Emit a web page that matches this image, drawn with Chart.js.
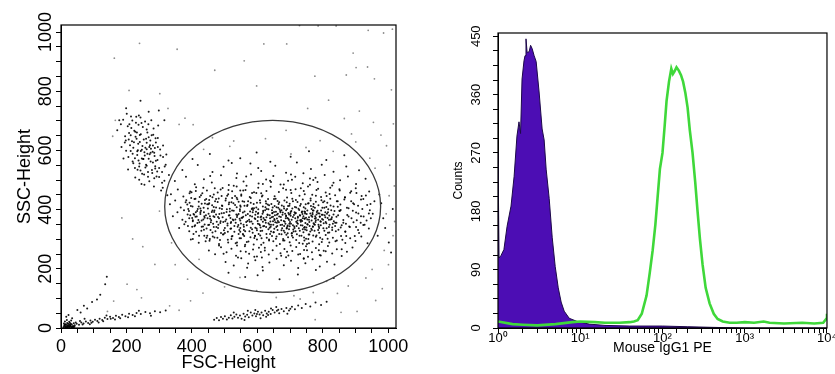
<!DOCTYPE html>
<html>
<head>
<meta charset="utf-8">
<script src="https://cdn.jsdelivr.net/npm/chart.js@4"></script>
<style>
  body { margin: 0; background: #fff; }
  #wrap { position: relative; width: 835px; height: 374px; }
  canvas { position: absolute; top: 0; }
  #scatter { left: 0; }
  #hist { left: 420px; }
</style>
</head>
<body>
<div id="wrap">
  <canvas id="scatter" width="420" height="374"></canvas>
  <canvas id="hist" width="415" height="374"></canvas>
</div>
<script>
// ---- left panel: FSC / SSC dot plot ----
var debrisPts = [[8,3],[11,7],[13,2],[15,11],[17,5],[19,9],[21,1],[22,14],[24,6],[26,3],[27,18],[29,8],[31,4],[33,12],[35,2],[37,7],[39,16],[12,22],[18,27],[25,21],[31,25],[16,38],[23,44],[34,33],[9,15],[14,4],[20,3],[28,10],[36,5],[42,9],[45,19],[14,13],[19,17],[27,6],[32,2],[10,9],[16,1],[23,9],[30,14],[38,3],[12,11],[21,6],[26,12],[41,4]];
var lowStreakPts = [[48,14],[55,11],[62,19],[69,15],[76,22],[83,17],[90,25],[97,21],[104,28],[111,24],[118,31],[126,27],[134,35],[142,30],[150,38],[159,34],[168,41],[177,37],[187,45],[197,40],[208,48],[219,44],[231,51],[244,47],[258,54],[272,50],[287,57],[303,53],[320,59],[58,24],[72,31],[88,13],[115,19],[139,42],[165,29],[205,36],[238,58],[275,41],[60,52],[80,66],[95,88],[120,112],[135,148],[140,173],[110,96],[70,75],[50,61],[66,12],[93,18],[129,23],[152,31],[181,33],[226,40]];
var beadPts = [[468,28],[476,34],[483,26],[489,37],[495,31],[501,40],[507,29],[513,35],[519,43],[524,32],[530,38],[536,46],[541,35],[547,42],[552,31],[558,48],[563,39],[569,45],[574,36],[580,52],[585,42],[591,49],[596,40],[602,55],[607,46],[613,52],[618,43],[624,58],[629,49],[635,55],[641,47],[647,61],[653,52],[660,58],[667,50],[674,64],[681,57],[689,68],[697,59],[706,72],[715,63],[725,76],[736,68],[748,81],[762,73],[778,86],[795,78],[812,89],[528,52],[561,27],[594,61],[627,38],[658,71],[692,48],[571,58],[610,33],[642,66],[599,47],[633,44],[664,62],[701,65]];
var leftClusterPts = [[172,668],[178,702],[185,612],[191,573],[196,648],[201,724],[205,536],[209,689],[213,598],[217,631],[221,557],[224,667],[227,509],[230,714],[233,585],[236,623],[239,546],[241,652],[244,598],[246,693],[248,521],[251,571],[253,637],[255,484],[258,609],[260,552],[262,671],[264,589],[266,527],[268,645],[270,496],[272,618],[274,563],[276,702],[278,534],[280,596],[282,653],[284,478],[286,581],[288,547],[290,627],[292,512],[295,568],[297,684],[300,541],[303,603],[306,465],[309,527],[312,578],[316,498],[320,552],[325,449],[330,517],[199,743],[243,768],[268,731],[219,589],[237,566],[256,583],[249,615],[231,640],[262,604],[274,592],[215,676],[287,608],[239,501],[183,689],[207,637],[299,735],[316,702],
  [247,602],[213,651],[281,559],[229,694],[266,511],[195,627],[304,583],[238,718],[258,542],[221,609],[289,641],[204,682],[271,587],[243,532],[317,546],[232,661],[262,626],[199,599],[285,506],[250,679],[226,574],[296,612],[214,715],[277,651],[240,556],[309,491],[257,698],[223,628],[268,572],[235,601],[294,529],[208,659],[281,617],[246,487],[264,661],[190,704],[226,541],[273,634],[252,571],[312,617],[237,687],[285,592],[219,563],[260,640],[300,510],[244,655],[211,618],[279,524],[233,597],[267,689],[254,519],[322,586],[228,646],[290,565],[241,629],[206,578],[275,606],[262,548],[218,701],[296,642],[247,573],[234,535],[283,674],[255,594],[311,474],[227,663],[270,612],[243,711],[288,539],[198,634]];
var mainClusterPts = [
  [402,571],[455,588],[512,566],[598,593],[640,562],[702,579],[758,597],[811,568],[866,584],[548,574],
  [371,534],[418,551],[463,527],[497,545],[538,522],[579,556],[612,531],[655,548],[688,525],[721,559],[764,537],[797,552],[833,528],[872,546],[911,533],[603,541],[741,523],[522,558],
  [348,497],[382,511],[409,486],[437,503],[461,492],[489,516],[513,483],[536,507],[558,495],[581,519],[604,488],[627,502],[649,514],[671,485],[694,498],[716,511],[739,489],[761,505],[784,493],[806,517],[829,482],[853,499],[877,512],[902,487],[931,504],[567,481],[642,493],[703,519],[778,508],[456,514],
  [336,452],[357,468],[374,444],[395,461],[413,476],[428,449],[446,465],[463,442],[479,458],[494,473],[508,447],[523,462],[537,478],[551,451],[564,466],[577,443],[590,459],[603,474],[616,448],[628,463],[641,477],[653,445],[666,460],[679,472],[691,441],[704,456],[717,469],[729,447],[742,463],[755,478],[768,450],[781,466],[795,443],[809,458],[823,474],[838,449],[852,465],[868,441],[884,457],[901,472],[919,446],[942,461],[612,455],[688,467],[745,452],
  [333,418],[349,431],[366,407],[381,425],[397,412],[411,437],[426,404],[440,421],[453,433],[467,409],[479,426],[492,414],[504,438],[516,403],[527,422],[539,435],[549,410],[560,427],[570,416],[580,439],[590,405],[599,423],[608,432],[617,411],[626,428],[634,401],[643,419],[651,436],[659,408],[667,425],[675,414],[683,431],[691,402],[699,420],[707,437],[715,409],[723,426],[731,413],[739,434],[747,404],[755,421],[763,438],[771,410],[779,427],[787,415],[796,432],[805,406],[814,423],[823,437],[833,411],[843,428],[854,417],[866,434],[879,405],[893,422],[908,413],[924,436],[946,419],[636,415],[662,429],[694,412],[718,433],[748,418],[776,406],[958,428],
  [342,378],[356,391],[371,366],[387,384],[401,372],[416,395],[430,363],[443,381],[456,369],[468,392],[480,375],[491,388],[502,361],[513,380],[523,397],[533,367],[543,385],[552,373],[561,394],[570,362],[578,379],[586,391],[594,368],[602,386],[610,374],[618,396],[625,364],[632,382],[639,371],[646,389],[653,365],[660,383],[667,377],[674,398],[681,362],[688,380],[695,369],[702,392],[709,375],[716,387],[723,363],[730,381],[737,394],[744,370],[751,385],[758,366],[765,379],[772,397],[779,372],[786,388],[793,361],[800,383],[808,374],[816,391],[824,367],[833,384],[842,376],[852,395],[863,365],[875,382],[888,371],[902,390],[917,378],[934,363],[953,386],[648,376],[671,391],[697,384],[724,373],[746,392],[769,384],[791,377],[612,367],[587,399],[538,375],
  [361,338],[377,351],[392,327],[408,344],[423,357],[437,332],[450,348],[463,323],[475,341],[487,355],[498,330],[509,346],[520,358],[530,325],[540,342],[550,353],[559,331],[568,347],[577,359],[586,322],[594,339],[602,352],[610,328],[618,344],[626,356],[634,334],[642,349],[650,324],[658,341],[666,357],[674,330],[682,345],[690,336],[698,352],[706,321],[714,338],[722,355],[730,329],[738,346],[746,333],[754,350],[762,326],[770,343],[778,358],[786,331],[794,347],[802,337],[811,354],[820,323],[829,340],[838,356],[848,332],[858,347],[869,326],[881,343],[894,357],[908,331],[924,348],[941,336],[692,343],[717,327],[743,339],[767,331],[789,338],[805,329],[776,349],[733,359],[709,347],[652,335],[627,341],[584,334],[548,338],[871,352],[902,341],
  [403,301],[421,288],[438,312],[454,295],[469,306],[483,284],[497,317],[510,298],[522,309],[534,286],[546,303],[557,315],[568,291],[579,307],[589,282],[599,299],[609,313],[619,288],[629,305],[639,318],[649,293],[659,309],[669,284],[679,301],[689,315],[699,290],[709,306],[719,297],[729,312],[739,285],[749,302],[759,316],[769,292],[779,308],[789,283],[799,300],[809,314],[820,289],[831,305],[843,296],[856,311],[869,287],[884,303],[900,294],[918,309],[937,286],[705,319],[744,296],[771,313],[797,291],[728,287],[683,296],[636,299],[593,312],[563,281],[815,302],[860,298],[511,289],[445,305],[752,284],
  [452,262],[471,249],[489,273],[506,256],[521,268],[535,244],[549,259],[562,276],[575,251],[587,265],[599,242],[611,257],[623,271],[635,248],[647,263],[659,278],[671,253],[683,267],[695,245],[707,260],[719,274],[731,250],[743,264],[755,241],[767,256],[779,270],[791,247],[803,261],[816,277],[829,252],[843,266],[858,243],[874,258],[891,272],[612,281],[702,279],[749,276],[673,244],[788,263],[565,258],
  [503,223],[528,211],[551,236],[572,218],[594,229],[616,206],[637,221],[659,234],[681,212],[703,227],[725,203],[747,219],[769,232],[791,208],[813,224],[836,215],[614,238],[688,239],[742,236],[569,204],
  [512,187],[563,172],[617,194],[668,165],[724,181],[779,196],[834,169],[601,178],
  [968,312],[985,371],[1002,289],[1014,402],[973,451],[991,338],[1009,255],[979,422]
];
var corePts = [[612,377],[745,341],[583,402],[801,366],[667,318],[709,428],[558,349],[836,395],[694,307],[627,421],[772,354],[598,336],[718,389],[653,412],[789,322],[571,385],[742,408],[684,359],[819,341],[636,296],[763,431],[601,362],[697,334],[828,374],[645,398],[757,316],[589,419],[724,352],[677,383],[811,409],[563,327],[739,371],[621,345],[784,396],[706,312],[656,437],[842,356],[593,311],[733,419],[671,348],[797,383],[618,392],[751,330],[682,404],[575,366],[816,322],[640,360],[766,402],[702,379],[547,401],[855,340],[628,318],[779,364],[690,425],[606,351],[746,387],[662,331],[824,414],[584,377],[713,343],[652,368],[792,305],[569,412],[737,362],[679,296],[808,391],[633,436],[760,345],[596,393],[721,317],[668,401],[847,381],[615,329],[772,419],[700,358],[554,373],[831,352],[645,311],[753,397],[687,371],[580,339],[805,428],[625,408],[741,324],[663,386],[787,349],[609,423],[728,399],[676,337],[819,366],[591,304],[768,376],[698,413],[637,350],[756,301],[572,428],[812,337],[651,392],[734,365],[684,323],[799,406],[619,372],[747,355],[665,419],[840,327],[603,389],[781,384],[710,333],[566,358],[826,398],[642,326],[764,412],[693,346],[597,407],[749,373],[657,302],[794,359],[631,384],[719,407],[673,364],[851,396],[586,352],[775,329],[704,395],[548,325],[815,372],[649,349],[738,385],[681,411],[604,318],[766,363],[716,371],[629,402],[788,343],[660,356],[743,306],[578,394],[806,381],[690,338],[622,366],[757,422],[695,389],[560,311],[834,361],[644,374],[770,397],[711,326],[592,371],[753,351],[670,395],[821,349],[613,303],[731,380],[686,352],[801,425],[638,339],[762,387],[705,366],[576,327],[846,410],[654,381],[781,313],[726,403],[608,347],[744,394],[674,317],[813,386],[632,417],[776,370],[699,344],[565,381],[829,331],[647,407],[759,358],[714,391],[599,330],[791,376],[661,345],[735,312],[688,398],[617,359],[803,354],[727,337],[650,324],[770,342],[692,372],[585,405],[753,367],[638,381],[719,359],[676,349],[798,368],[624,398],[741,378],[703,352],[660,370],[782,392],[610,340],[733,347],[685,386],[820,380],[648,361],[765,335],[707,404],[594,383],[745,369],[672,375],[809,358],[634,354],[777,378],[697,365],[556,390],[838,345],[657,393],[724,376],[681,329],[795,397],[616,386],[750,340],[664,406],[786,366],[602,375],[736,391],[693,320],[827,368],[641,342],[769,389],[712,382],[582,360],[817,401],[655,357],[739,334],[678,390],[603,401],[758,374],[720,345],[663,362],[790,387],[628,374],[774,351],[701,386],[646,388],[731,364],[688,378]];
var leftCorePts = [[392,371],[418,402],[445,336],[471,428],[498,389],[524,311],[551,447],[405,318],[432,455],[459,364],[486,297],[513,418],[539,381],[383,432],[410,347],[437,391],[464,309],[491,446],[518,372],[545,331],[399,459],[426,385],[453,422],[480,338],[507,401],[534,356],[561,413],[388,345],[415,377],[442,293],[469,397],[496,358],[523,439],[550,303],[402,411],[429,329],[456,446],[483,371],[510,325],[537,408],[376,398],[403,361],[430,420],[457,331],[484,385],[511,452],[538,289],[395,381],[422,312],[449,404],[476,359],[503,431],[530,345],[557,376],[381,359],[408,436],[435,367],[462,415],[489,321],[516,394],[543,427],[397,299],[424,443],[451,386],[478,305],[505,367],[532,416],[559,342],[412,391],[439,350],[466,378],[493,412],[520,336],[547,395],[386,417],[413,325],[440,433],[467,341],[494,374],[521,425],[548,363],[401,342],[428,396],[455,301],[482,438],[509,353],[536,384],[420,365],[447,418],[474,384],[501,338],[528,396],[555,428],[391,395],[438,378],[465,352],[492,402],[519,355],[546,369],[407,383],[434,343],[461,392],[488,361],[515,381],[542,348],[474,407],[501,321],[527,364],[453,349],[421,411],[448,371],[537,440],[556,318],[470,472],[512,466],[435,474],[393,455],[548,465],[483,279]];
var rimPts = [[412,463],[538,279],[872,311],[455,378],[921,402],[497,251],[903,456],[389,402],[617,487],[858,266],[474,436],[941,387],[521,301],[786,471],[430,342],[887,428],[566,512],[752,263],[405,385],[928,349],[488,468],[833,491],[447,312],[879,377],[541,238],[706,501],[421,427],[911,321],[584,456],[868,442],[463,397],[947,371],[528,481],[809,259],[439,373],[892,396],[605,271],[761,484],[398,439],[936,416],[514,424],[851,469],[472,327],[904,364],[557,465],[725,248],[417,355],[883,341],[639,498],[821,453],[481,349],[917,434],[532,446],[794,245],[451,418],[874,406],[591,241],[733,472],[403,364],[925,377],[506,392],[846,428],[467,451],[898,311],[573,292],[779,447],[426,391],[863,356],[548,414],[691,258],[495,316],[932,448],[614,444],[839,293],[458,357],[909,387],[525,367],[771,500],[436,406],[887,462],[580,423],[742,234],[485,405],[855,399],[623,262],[702,466],[411,376],[916,356],[543,318],[812,446],[469,375],[896,418],[597,456],[758,286],[444,436],[869,325],[518,335],[681,485],[393,423],[944,398]];
var sparsePts = [[163,912],[240,962],[355,942],[470,871],[560,903],[598,818],[620,960],[690,960],[729,1022],[786,1021],[841,1021],[893,929],[902,880],[937,882],[958,842],[986,997],[1013,1010],[1010,805],[1016,690],[995,616],[872,855],[776,851],[754,742],[818,770],[866,708],[912,733],[955,695],[978,652],[302,792],[327,742],[379,709],[404,687],[463,643],[528,632],[625,640],[688,668],[749,610],[832,597],[901,629],[944,574],[1005,550],[1019,480],[988,262],[1001,214],[951,198],[932,169],[878,142],[845,117],[812,158],[771,120],[712,109],[658,103],[598,126],[547,171],[500,139],[434,118],[396,92],[361,60],[332,75],[246,102],[232,130],[202,148],[161,91],[142,56],[186,372],[219,301],[250,275],[287,215],[349,214],[387,165],[422,232],[301,395],[338,288],[962,93],[982,133],[905,56],[856,53],[777,28],[731,98],[939,1006],[1020,360],[158,648],[166,702],[208,803],[361,688],[436,604],[516,614],[703,588],[792,633],[888,656],[960,540],[1003,447],[994,386],[1015,312]];

var gateCenter = [647, 411];
var gateRadii = [330, 291];
var scatterTicks = [0, 200, 400, 600, 800, 1000];

// ---- right panel: histogram counts ----
var isoX = [1, 1.02, 1.03, 1.09, 1.18, 1.29, 1.44, 1.57, 1.70, 1.80, 1.88, 1.96, 2.07, 2.13, 2.19, 2.26, 2.39, 2.49, 2.60, 2.75, 2.91, 3.16, 3.44, 3.64, 3.85, 4.19, 4.56, 4.96, 5.40, 5.86, 6.38, 7.35, 9.2, 12.9, 20, 40, 100, 200, 400, 1000, 10000];
var isoCounts = [272, 272, 108, 112, 121, 157, 188, 234, 296, 318, 300, 384, 412, 420, 446, 425, 426, 436, 431, 420, 411, 364, 307, 290, 245, 200, 140, 95, 62, 40, 26, 15, 10, 6, 4, 3, 3, 2, 1, 0, 0];
var peX = [1, 1.5, 2, 3, 5, 8, 10, 15, 20, 30, 40, 45, 50, 56, 64, 70, 76, 82, 87, 93, 100, 106, 112, 120, 128, 134, 140, 148, 158, 168, 178, 190, 202, 215, 232, 250, 267, 285, 307, 335, 374, 420, 468, 540, 656, 800, 1000, 1300, 1700, 2000, 3000, 5000, 7000, 9000, 9800, 10000];
var peCounts = [10, 6, 5, 4, 6, 9, 10, 9, 8, 8, 9, 10, 12, 22, 50, 85, 120, 160, 200, 245, 270, 310, 350, 380, 400, 392, 396, 402, 397, 390, 380, 362, 340, 305, 270, 225, 180, 138, 98, 62, 38, 22, 14, 10, 8, 8, 9, 8, 10, 8, 7, 8, 7, 8, 14, 22];
var histTicks = [0, 90, 180, 270, 360, 450];
var sup = ['\u2070', '\u00b9', '\u00b2', '\u00b3', '\u2074'];

var fontFam = '"Liberation Sans", Arial, sans-serif';
var narrowFam = '"Liberation Sans Narrow", "Liberation Sans", Arial, sans-serif';

var framePlugin = {
  id: 'frame',
  afterDatasetsDraw: function(chart) {
    var a = chart.chartArea, ctx = chart.ctx;
    ctx.save();
    ctx.strokeStyle = '#000';
    ctx.lineWidth = 1.2;
    ctx.strokeRect(a.left, a.top, a.right - a.left, a.bottom - a.top);
    ctx.restore();
  }
};

var gatePlugin = {
  id: 'gate',
  afterDatasetsDraw: function(chart) {
    var xs = chart.scales.x, ys = chart.scales.y, ctx = chart.ctx;
    var cx = xs.getPixelForValue(gateCenter[0]);
    var cy = ys.getPixelForValue(gateCenter[1]);
    var rx = xs.getPixelForValue(gateCenter[0] + gateRadii[0]) - cx;
    var ry = cy - ys.getPixelForValue(gateCenter[1] + gateRadii[1]);
    ctx.save();
    ctx.strokeStyle = '#3a3a3a';
    ctx.lineWidth = 1.3;
    ctx.beginPath();
    ctx.ellipse(cx, cy, rx, ry, 0, 0, Math.PI * 2);
    ctx.stroke();
    ctx.restore();
  }
};

function toXY(list) {
  return list.map(function(p) { return { x: p[0], y: p[1] }; });
}

var denseDots = [].concat(debrisPts, lowStreakPts, beadPts, leftClusterPts, mainClusterPts, corePts, leftCorePts, rimPts);

new Chart(document.getElementById('scatter'), {
  type: 'scatter',
  data: {
    datasets: [{
      data: toXY(denseDots),
      pointRadius: 1,
      pointBorderWidth: 0,
      backgroundColor: 'rgba(0,0,0,0.9)'
    }, {
      data: toXY(sparsePts),
      pointRadius: 0.9,
      pointBorderWidth: 0,
      backgroundColor: 'rgba(0,0,0,0.45)'
    }]
  },
  options: {
    responsive: false,
    animation: false,
    devicePixelRatio: 1,
    layout: { padding: { left: 0, right: 24, top: 25, bottom: 0 } },
    plugins: { legend: { display: false }, tooltip: { enabled: false } },
    scales: {
      x: {
        type: 'linear', min: 0, max: 1024,
        afterFit: function(s) { s.height = 46; },
        grid: { drawOnChartArea: false, tickLength: 5, color: '#000' },
        border: { color: '#000' },
        ticks: {
          stepSize: 50, autoSkip: false, includeBounds: false, maxRotation: 0, padding: 3,
          color: '#000', font: { family: fontFam, size: 18 },
          callback: function(v) { return scatterTicks.indexOf(v) >= 0 ? String(v) : ''; }
        },
        title: { display: true, text: 'FSC-Height', color: '#000', font: { family: fontFam, size: 18 }, padding: { top: 0, bottom: 0 } }
      },
      y: {
        type: 'linear', min: 0, max: 1024,
        afterFit: function(s) { s.width = 61; },
        grid: { drawOnChartArea: false, tickLength: 5, color: '#000' },
        border: { color: '#000' },
        ticks: {
          stepSize: 50, autoSkip: false, includeBounds: false,
          minRotation: 90, maxRotation: 90, crossAlign: 'center', padding: -10,
          color: '#000', font: { family: fontFam, size: 18 },
          callback: function(v) { return scatterTicks.indexOf(v) >= 0 ? String(v) : ''; }
        },
        title: { display: true, text: 'SSC-Height', color: '#000', font: { family: fontFam, size: 18 }, padding: { top: 14, bottom: 0 } }
      }
    }
  },
  plugins: [gatePlugin, framePlugin]
});

function pairs(xs, ys) {
  return xs.map(function(x, i) { return { x: x, y: ys[i] }; });
}

new Chart(document.getElementById('hist'), {
  type: 'line',
  data: {
    datasets: [{
      label: 'Mouse IgG1 PE',
      data: pairs(peX, peCounts),
      borderColor: '#3fd83a',
      borderWidth: 2.6,
      pointRadius: 0,
      fill: false,
      tension: 0
    }, {
      label: 'Isotype',
      data: pairs(isoX, isoCounts),
      borderColor: '#1c0848',
      backgroundColor: '#4c0db4',
      borderWidth: 1,
      pointRadius: 0,
      fill: 'origin',
      tension: 0
    }]
  },
  options: {
    responsive: false,
    animation: false,
    devicePixelRatio: 1,
    layout: { padding: { left: 28, right: 8, top: 33, bottom: 0 } },
    plugins: { legend: { display: false }, tooltip: { enabled: false } },
    scales: {
      x: {
        type: 'logarithmic', min: 1, max: 10000,
        afterFit: function(s) { s.height = 46; },
        grid: { drawOnChartArea: false, tickLength: 5, color: '#000' },
        border: { color: '#000' },
        ticks: {
          autoSkip: false, maxRotation: 0, padding: -2,
          color: '#000', font: { family: fontFam, size: 13 },
          callback: function(v) {
            var e = Math.log10(v), r = Math.round(e);
            return Math.abs(e - r) < 1e-9 ? '10' + sup[r] : '';
          }
        },
        title: { display: true, text: 'Mouse IgG1 PE', color: '#000', font: { family: fontFam, size: 14 }, padding: { top: 0, bottom: 17 } }
      },
      y: {
        type: 'linear', min: 0, max: 455,
        afterFit: function(s) { s.width = 50; },
        grid: { drawOnChartArea: false, tickLength: 5, color: '#000' },
        border: { color: '#000' },
        ticks: {
          stepSize: 22.5, autoSkip: false, includeBounds: false,
          minRotation: 90, maxRotation: 90, crossAlign: 'center', padding: 6,
          color: '#000', font: { family: narrowFam, size: 13 },
          callback: function(v) { return histTicks.indexOf(v) >= 0 ? String(v) : ''; }
        },
        title: { display: true, text: 'Counts', color: '#000', font: { family: fontFam, size: 12 }, padding: { top: 3, bottom: 0 } }
      }
    }
  },
  plugins: [framePlugin]
});
</script>
</body>
</html>
